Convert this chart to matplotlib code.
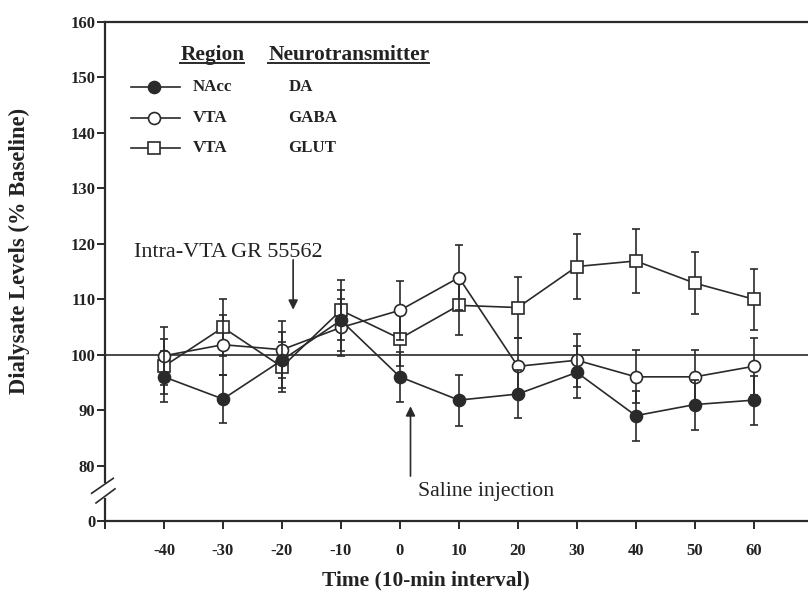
import matplotlib
matplotlib.use("Agg")
import matplotlib.pyplot as plt
from matplotlib.lines import Line2D
import matplotlib.transforms as mtrans

# ---- data ----
time = [-40, -30, -20, -10, 0, 10, 20, 30, 40, 50, 60]
da_nacc = [96, 92, 99, 106.2, 96, 91.8, 92.9, 96.8, 89, 91, 91.8]
da_err = [4.6, 4.4, 5.0, 5.5, 4.5, 4.6, 4.4, 4.7, 4.5, 4.5, 4.4]
gaba_vta = [99.8, 101.8, 100.9, 104.9, 108, 113.9, 97.9, 99, 96, 96, 97.9]
gaba_err = [5.2, 5.4, 5.1, 5.2, 5.3, 5.8, 5.1, 4.8, 4.8, 4.8, 5.1]
glut_vta = [97.9, 104.9, 97.8, 108, 102.9, 108.9, 108.5, 115.9, 116.9, 112.9, 110]
glut_err = [5.0, 5.2, 4.5, 5.4, 5.0, 5.3, 5.5, 5.9, 5.7, 5.6, 5.5]
xticks = [-40, -30, -20, -10, 0, 10, 20, 30, 40, 50, 60]
yticks = [70, 80, 90, 100, 110, 120, 130, 140, 150, 160]
ytick_labels = ["0", "80", "90", "100", "110", "120", "130", "140", "150", "160"]
legend_rows = [("NAcc", "DA"), ("VTA", "GABA"), ("VTA", "GLUT")]

serif = ["Liberation Serif", "DejaVu Serif"]
plt.rcParams["font.family"] = serif
ink = "#2a2a2a"
txt = "#222222"

fig = plt.figure(figsize=(8.08, 6.01), dpi=100)
ax = fig.add_axes([105 / 808, 1 - 521 / 601, 703 / 808, 499 / 601])
ax.set_xlim(-50, 69.2)
ax.set_ylim(70, 160)

ax.spines["right"].set_visible(False)
ax.spines["left"].set_visible(False)
for s in ["top", "bottom"]:
    ax.spines[s].set_linewidth(1.6)
    ax.spines[s].set_color(ink)

# broken left spine
tr = mtrans.blended_transform_factory(ax.transAxes, ax.transData)
ax.add_line(Line2D([0, 0], [77.1, 160], transform=tr, color=ink, lw=1.6, clip_on=False))
ax.add_line(Line2D([0, 0], [70, 74.0], transform=tr, color=ink, lw=1.6, clip_on=False))
ax.add_line(Line2D([-0.019, 0.0118], [75.0, 77.7], transform=tr, color=ink, lw=1.2, clip_on=False))
ax.add_line(Line2D([-0.0128, 0.0142], [73.25, 75.8], transform=tr, color=ink, lw=1.2, clip_on=False))

ax.axhline(100, color=ink, lw=1.2, zorder=1)

common = dict(color=ink, lw=1.2, capsize=2.6, elinewidth=1.2, capthick=1.2,
              markersize=8.6, markeredgewidth=1.2, markeredgecolor=ink)
ax.errorbar(time, glut_vta, yerr=glut_err, marker="s", markerfacecolor="white", zorder=3, **common)
ax.errorbar(time, gaba_vta, yerr=gaba_err, marker="o", markerfacecolor="white", zorder=4, **common)
ax.errorbar(time, da_nacc, yerr=da_err, marker="o", markerfacecolor=ink, zorder=5, **common)

ax.set_xticks([-50] + xticks)
ax.set_xticklabels([""] + [str(v) for v in xticks])
ax.set_yticks(yticks)
ax.set_yticklabels(ytick_labels)
ax.tick_params(axis="both", direction="out", length=6, width=1.4, color=ink,
               labelsize=12, labelcolor=txt)
ax.tick_params(axis="x", pad=10)
ax.tick_params(axis="y", pad=1)
for lab in ax.get_xticklabels() + ax.get_yticklabels():
    lab.set_fontweight("bold")

fig.text(426 / 808, 1 - 580 / 601, "Time (10-min interval)", ha="center", va="center",
         fontsize=15.4, fontweight="bold", color=txt)
fig.text(19 / 808, 1 - 251 / 601, "Dialysate Levels (% Baseline)", ha="center", va="center",
         rotation=90, fontsize=16.3, fontweight="bold", color=txt)

# annotations
ax.annotate("", xy=(-18.1, 107.6), xytext=(-18.1, 117.6),
            arrowprops=dict(arrowstyle="-|>", color=ink, lw=1.2, mutation_scale=14))
ax.text(-45, 118.4, "Intra-VTA GR 55562", fontsize=15.9, color=txt, va="center", ha="left")
ax.annotate("", xy=(1.8, 91.2), xytext=(1.8, 77.6),
            arrowprops=dict(arrowstyle="-|>", color=ink, lw=1.2, mutation_scale=14))
ax.text(3.0, 75.3, "Saline injection", fontsize=15.7, color=txt, va="center", ha="left")

# custom legend
hdr_y = 0.934
row_y = [0.870, 0.808, 0.747]
markers = [("o", ink), ("o", "white"), ("s", "white")]
t1 = ax.text(0.107, hdr_y, "Region", transform=ax.transAxes, fontsize=15.4,
             fontweight="bold", va="center", ha="left", color=txt)
t2 = ax.text(0.232, hdr_y, "Neurotransmitter", transform=ax.transAxes, fontsize=15.4,
             fontweight="bold", va="center", ha="left", color=txt)
for (reg, nt), yy, (mk, fc) in zip(legend_rows, row_y, markers):
    ax.add_line(Line2D([0.037, 0.107], [yy, yy], transform=ax.transAxes, color=ink, lw=1.2))
    ax.add_line(Line2D([0.070], [yy], transform=ax.transAxes, marker=mk, markersize=8.6,
                       markerfacecolor=fc, markeredgecolor=ink, markeredgewidth=1.2, lw=0))
    ax.text(0.125, yy, reg, transform=ax.transAxes, fontsize=12.2, fontweight="bold",
            va="center", ha="left", color=txt)
    ax.text(0.261 if nt == "DA" else 0.260, yy, nt, transform=ax.transAxes, fontsize=12.2,
            fontweight="bold", va="center", ha="left", color=txt)

fig.canvas.draw()
r = fig.canvas.get_renderer()
inv = fig.transFigure.inverted()
for t in (t1, t2):
    bb = t.get_window_extent(renderer=r)
    (x0, y0), (x1, _) = inv.transform([(bb.x0, bb.y0 + 1.5), (bb.x1, bb.y0)])
    fig.add_artist(Line2D([x0, x1], [y0, y0], transform=fig.transFigure, color=ink, lw=1.4))

fig.savefig("out.png", dpi=100)
